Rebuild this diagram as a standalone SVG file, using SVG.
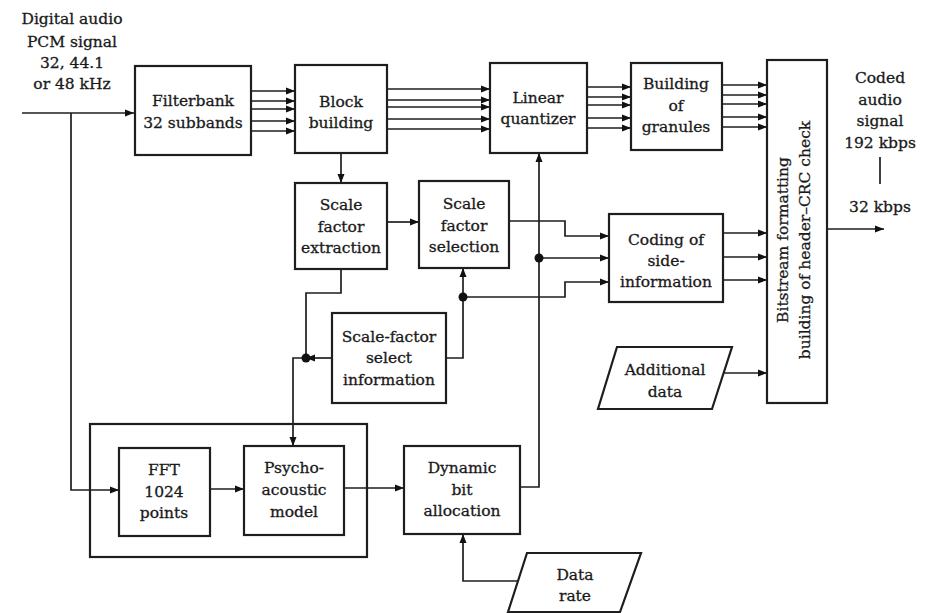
<svg xmlns="http://www.w3.org/2000/svg" width="927" height="613" viewBox="0 0 927 613">
  <style>
    .box { fill: #fff; stroke: #1e1e1e; stroke-width: 2.2; }
    .ln { fill: none; stroke: #1e1e1e; stroke-width: 1.7; }
    .arr { marker-end: url(#ah); }
    .dot { fill: #111; }
    text { font-family: "DejaVu Serif", "Liberation Serif", serif; font-size: 15.5px; fill: #1a1a1a; stroke: #1a1a1a; stroke-width: 0.3; text-anchor: middle; }
  </style>
  <defs>
    <marker id="ah" markerUnits="userSpaceOnUse" markerWidth="10" markerHeight="8" refX="9" refY="4" orient="auto">
      <path d="M0,0.5 L9,4 L0,7.5 z" fill="#111"/>
    </marker>
  </defs>
  <rect width="927" height="613" fill="#fff"/>

  <!-- input / output labels -->
  <g id="input-label">
    <text x="72" y="24">Digital audio</text>
    <text x="72" y="47">PCM signal</text>
    <text x="72" y="68">32, 44.1</text>
    <text x="72" y="89">or 48 kHz</text>
  </g>
  <g id="output-label">
    <text x="880" y="83">Coded</text>
    <text x="880" y="105">audio</text>
    <text x="880" y="126">signal</text>
    <text x="880" y="148">192 kbps</text>
    <line class="ln" x1="880" y1="157" x2="880" y2="184"/>
    <text x="880" y="212">32 kbps</text>
  </g>

  <!-- connectors -->
  <g id="connectors">
    <!-- PCM input -->
    <path class="ln arr" d="M22,113 H134"/>
    <path class="ln arr" d="M71,113 V490 H119"/>
    <!-- filterbank -> block building (32 subbands) -->
    <path class="ln arr" d="M251,91 H295"/>
    <path class="ln arr" d="M251,101 H295"/>
    <path class="ln arr" d="M251,109 H295"/>
    <path class="ln arr" d="M251,121 H295"/>
    <path class="ln arr" d="M251,131 H295"/>
    <!-- block building -> linear quantizer -->
    <path class="ln arr" d="M387,89 H490"/>
    <path class="ln arr" d="M387,100 H490"/>
    <path class="ln arr" d="M387,107 H490"/>
    <path class="ln arr" d="M387,119 H490"/>
    <path class="ln arr" d="M387,129 H490"/>
    <!-- linear quantizer -> building of granules -->
    <path class="ln arr" d="M587,87 H631"/>
    <path class="ln arr" d="M587,97 H631"/>
    <path class="ln arr" d="M587,105 H631"/>
    <path class="ln arr" d="M587,118 H631"/>
    <path class="ln arr" d="M587,128 H631"/>
    <!-- granules -> bitstream formatting -->
    <path class="ln arr" d="M722,85 H767"/>
    <path class="ln arr" d="M722,95 H767"/>
    <path class="ln arr" d="M722,104 H767"/>
    <path class="ln arr" d="M722,117 H767"/>
    <path class="ln arr" d="M722,127 H767"/>
    <!-- block building -> scale factor extraction -->
    <path class="ln arr" d="M341,153 V183"/>
    <!-- extraction -> selection -->
    <path class="ln arr" d="M387,222 H419"/>
    <!-- selection -> coding of side-information -->
    <path class="ln arr" d="M509,221 H565 V236 H609"/>
    <!-- bit allocation -> linear quantizer and side information -->
    <path class="ln arr" d="M520,487 H539 V153"/>
    <path class="ln arr" d="M539,258 H609"/>
    <!-- scale-factor select information -> selection and side information -->
    <path class="ln" d="M446,358 H463 V297"/>
    <path class="ln arr" d="M463,297 V268"/>
    <path class="ln arr" d="M463,297 H565 V282 H609"/>
    <!-- side information -> bitstream -->
    <path class="ln arr" d="M723,233 H767"/>
    <path class="ln arr" d="M723,257 H767"/>
    <path class="ln arr" d="M723,280 H767"/>
    <!-- additional data -> bitstream -->
    <path class="ln arr" d="M722,373 H767"/>
    <!-- bitstream output -->
    <path class="ln arr" d="M827,229 H884"/>
    <!-- extraction and select information -> psychoacoustic model -->
    <path class="ln" d="M341,269 V293 H306 V358"/>
    <path class="ln arr" d="M332,358 H306"/>
    <path class="ln arr" d="M306,358 H293 V446"/>
    <!-- FFT -> psychoacoustic model -> bit allocation -->
    <path class="ln arr" d="M210,489 H244"/>
    <path class="ln arr" d="M344,488 H404"/>
    <!-- data rate -> bit allocation -->
    <path class="ln arr" d="M518,581 H463 V534"/>
    <!-- junction dots -->
    <circle class="dot" cx="539" cy="258" r="4.5"/>
    <circle class="dot" cx="463" cy="297" r="4.5"/>
    <circle class="dot" cx="306" cy="358" r="4.5"/>
  </g>

  <!-- psychoacoustic analysis enclosure -->
  <g id="analysis-group">
    <rect x="90" y="424" width="277" height="133" fill="none" stroke="#1e1e1e" stroke-width="2.2"/>
  </g>

  <g id="filterbank">
    <rect class="box" x="135" y="66" width="116" height="89"/>
    <text x="193" y="106">Filterbank</text>
    <text x="193" y="128">32 subbands</text>
  </g>
  <g id="block-building">
    <rect class="box" x="295" y="65" width="92" height="88"/>
    <text x="341" y="107">Block</text>
    <text x="341" y="128">building</text>
  </g>
  <g id="linear-quantizer">
    <rect class="box" x="490" y="63" width="97" height="90"/>
    <text x="538" y="103">Linear</text>
    <text x="538" y="124">quantizer</text>
  </g>
  <g id="granules">
    <rect class="box" x="631" y="63" width="91" height="87"/>
    <text x="676" y="89">Building</text>
    <text x="676" y="111">of</text>
    <text x="676" y="132">granules</text>
  </g>
  <g id="bitstream">
    <rect class="box" x="767" y="60" width="60" height="343"/>
    <text transform="translate(788,240) rotate(-90)">Bitstream formatting</text>
    <text transform="translate(810,240) rotate(-90)">building of header–CRC check</text>
  </g>
  <g id="sf-extraction">
    <rect class="box" x="295" y="183" width="92" height="86"/>
    <text x="341" y="210">Scale</text>
    <text x="341" y="232">factor</text>
    <text x="341" y="253">extraction</text>
  </g>
  <g id="sf-selection">
    <rect class="box" x="419" y="181" width="90" height="87"/>
    <text x="464" y="209">Scale</text>
    <text x="464" y="231">factor</text>
    <text x="464" y="252">selection</text>
  </g>
  <g id="side-info">
    <rect class="box" x="609" y="214" width="114" height="88"/>
    <text x="666" y="245">Coding of</text>
    <text x="666" y="266">side-</text>
    <text x="666" y="287">information</text>
  </g>
  <g id="sf-select-info">
    <rect class="box" x="332" y="313" width="114" height="90"/>
    <text x="389" y="342">Scale-factor</text>
    <text x="389" y="363">select</text>
    <text x="389" y="385">information</text>
  </g>
  <g id="additional-data">
    <polygon class="box" points="617,347 732,347 712,409 598,409"/>
    <text x="665" y="375">Additional</text>
    <text x="665" y="397">data</text>
  </g>
  <g id="fft">
    <rect class="box" x="119" y="448" width="91" height="88"/>
    <text x="164" y="475">FFT</text>
    <text x="164" y="497">1024</text>
    <text x="164" y="518">points</text>
  </g>
  <g id="psychoacoustic">
    <rect class="box" x="244" y="446" width="100" height="89"/>
    <text x="294" y="473">Psycho-</text>
    <text x="294" y="495">acoustic</text>
    <text x="294" y="517">model</text>
  </g>
  <g id="bit-allocation">
    <rect class="box" x="404" y="446" width="116" height="88"/>
    <text x="462" y="473">Dynamic</text>
    <text x="462" y="495">bit</text>
    <text x="462" y="516">allocation</text>
  </g>
  <g id="data-rate">
    <polygon class="box" points="527,553 641,553 620,612 508,612"/>
    <text x="575" y="580">Data</text>
    <text x="575" y="601">rate</text>
  </g>
</svg>
